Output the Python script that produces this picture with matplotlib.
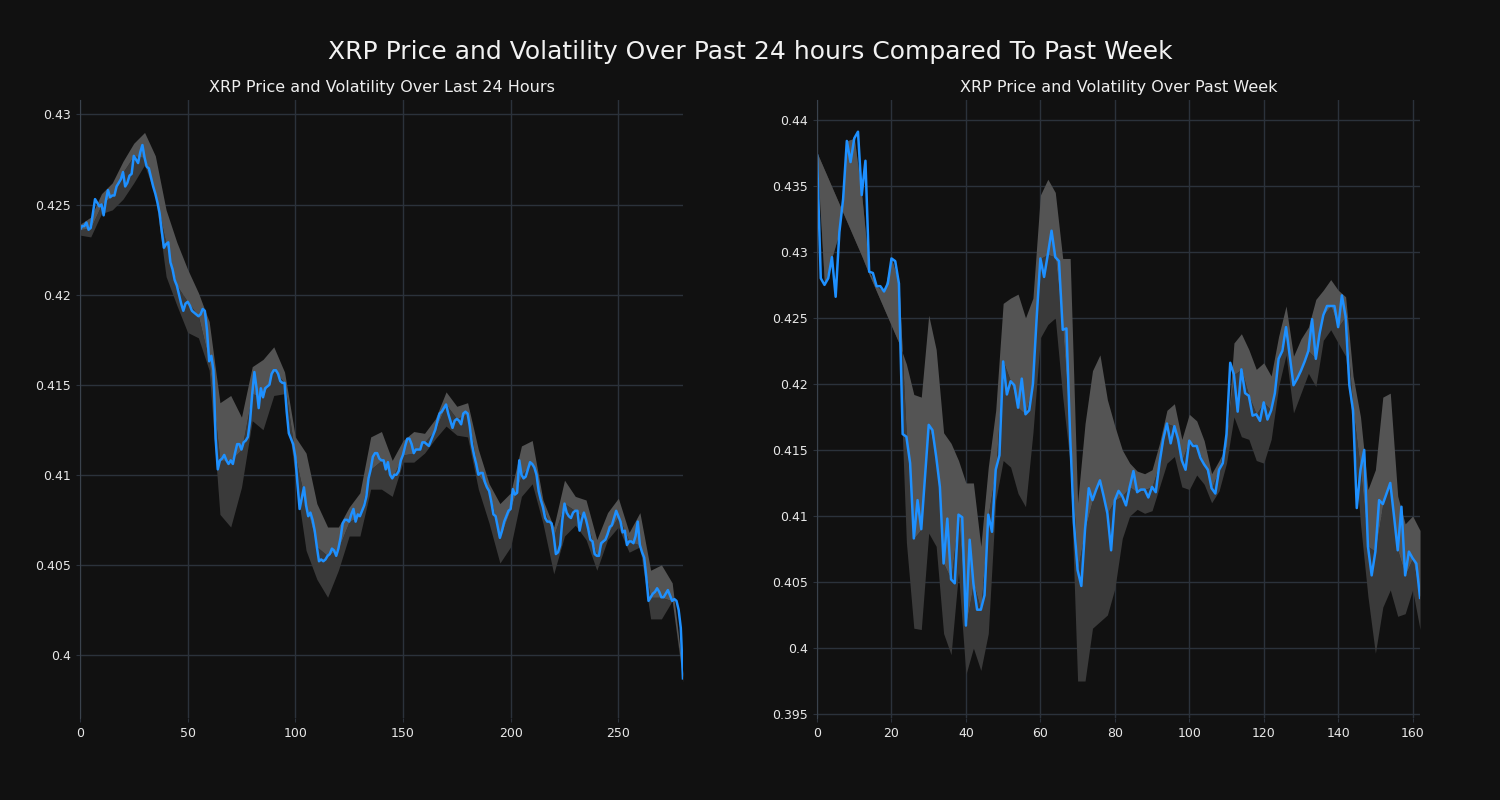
import numpy as np
import matplotlib
matplotlib.use("Agg")
import matplotlib.pyplot as plt
from matplotlib.ticker import FuncFormatter, MultipleLocator

# last 24 hours, one price per step
day_price = [
    0.4236, 0.4238, 0.4238, 0.4240, 0.4236, 0.4237, 0.4245, 0.4253, 0.4251, 0.4249,
    0.4250, 0.4244, 0.4252, 0.4258, 0.4254, 0.4255, 0.4255, 0.4260, 0.4262, 0.4264,
    0.4268, 0.4260, 0.4262, 0.4266, 0.4267, 0.4277, 0.4275, 0.4273, 0.4279, 0.4283,
    0.4276, 0.4271, 0.4270, 0.4265, 0.4260, 0.4256, 0.4251, 0.4245, 0.4235, 0.4226,
    0.4228, 0.4229, 0.4218, 0.4214, 0.4208, 0.4205, 0.4200, 0.4195, 0.4191, 0.4195,
    0.4196, 0.4194, 0.4191, 0.4190, 0.4189, 0.4188, 0.4189, 0.4192, 0.4191, 0.4180,
    0.4163, 0.4166, 0.4158, 0.4120, 0.4103, 0.4108, 0.4109, 0.4111, 0.4108, 0.4106,
    0.4108, 0.4106, 0.4112, 0.4117, 0.4117, 0.4114, 0.4118, 0.4119, 0.4121, 0.4130,
    0.4145, 0.4157, 0.4148, 0.4137, 0.4148, 0.4143, 0.4148, 0.4149, 0.4150, 0.4156,
    0.4158, 0.4158, 0.4156, 0.4152, 0.4151, 0.4151, 0.4135, 0.4123, 0.4120, 0.4117,
    0.4110, 0.4095, 0.4081, 0.4087, 0.4093, 0.4083, 0.4077, 0.4079, 0.4075, 0.4069,
    0.4060, 0.4052, 0.4053, 0.4052, 0.4053, 0.4055, 0.4056, 0.4059, 0.4058, 0.4055,
    0.4059, 0.4065, 0.4073, 0.4075, 0.4075, 0.4074, 0.4078, 0.4081, 0.4074, 0.4078,
    0.4077, 0.4080, 0.4083, 0.4088, 0.4098, 0.4103, 0.4110, 0.4112, 0.4112, 0.4109,
    0.4108, 0.4108, 0.4103, 0.4107, 0.4100, 0.4098, 0.4100, 0.4100, 0.4102, 0.4108,
    0.4111, 0.4116, 0.4120, 0.4120, 0.4117, 0.4112, 0.4114, 0.4114, 0.4114, 0.4118,
    0.4118, 0.4117, 0.4116, 0.4119, 0.4122, 0.4125, 0.4130, 0.4134, 0.4135, 0.4137,
    0.4139, 0.4134, 0.4130, 0.4126, 0.4130, 0.4131, 0.4130, 0.4128, 0.4134, 0.4135,
    0.4134, 0.4127, 0.4117, 0.4111, 0.4106, 0.4100, 0.4101, 0.4101, 0.4096, 0.4093,
    0.4091, 0.4085, 0.4078, 0.4077, 0.4071, 0.4065, 0.4069, 0.4074, 0.4077, 0.4080,
    0.4081, 0.4092, 0.4089, 0.4090, 0.4108, 0.4100, 0.4098, 0.4099, 0.4103, 0.4107,
    0.4106, 0.4104, 0.4100, 0.4091, 0.4086, 0.4082, 0.4076, 0.4074, 0.4074, 0.4073,
    0.4066, 0.4056, 0.4057, 0.4061, 0.4075, 0.4084, 0.4079, 0.4077, 0.4076, 0.4079,
    0.4080, 0.4080, 0.4069, 0.4075, 0.4079, 0.4075, 0.4070, 0.4064, 0.4063, 0.4056,
    0.4055, 0.4055, 0.4062, 0.4063, 0.4064, 0.4067, 0.4071, 0.4072, 0.4076, 0.4080,
    0.4077, 0.4074, 0.4068, 0.4069, 0.4061, 0.4063, 0.4063, 0.4062, 0.4066, 0.4074,
    0.4061, 0.4057, 0.4054, 0.4043, 0.4030, 0.4032, 0.4034, 0.4035, 0.4037, 0.4035,
    0.4032, 0.4032, 0.4034, 0.4036, 0.4033, 0.4030, 0.4031, 0.4030, 0.4025, 0.4015,
    0.3987,
]
# volatility band for the day, every 5th step
day_band_step = 5
day_hi = [
    0.4239, 0.4243, 0.4256, 0.4262, 0.4274, 0.4284, 0.4290, 0.4277, 0.4247, 0.4229,
    0.4214, 0.4201, 0.4185, 0.4140, 0.4144, 0.4132, 0.4160, 0.4164, 0.4171, 0.4157,
    0.4121, 0.4112, 0.4084, 0.4071, 0.4071, 0.4082, 0.4090, 0.4121, 0.4124, 0.4108,
    0.4119, 0.4124, 0.4123, 0.4131, 0.4146, 0.4138, 0.4140, 0.4114, 0.4095, 0.4084,
    0.4090, 0.4116, 0.4119, 0.4086, 0.4071, 0.4097, 0.4088, 0.4086, 0.4064, 0.4079,
    0.4087, 0.4068, 0.4079, 0.4047, 0.4050, 0.4040, 0.3990,
]
day_lo = [
    0.4233, 0.4232, 0.4245, 0.4247, 0.4253, 0.4262, 0.4272, 0.4255, 0.4210, 0.4194,
    0.4179, 0.4176, 0.4158, 0.4078, 0.4071, 0.4093, 0.4130, 0.4125, 0.4144, 0.4145,
    0.4099, 0.4058, 0.4042, 0.4032, 0.4047, 0.4066, 0.4066, 0.4092, 0.4092, 0.4088,
    0.4107, 0.4107, 0.4112, 0.4120, 0.4127, 0.4122, 0.4121, 0.4092, 0.4073, 0.4051,
    0.4060, 0.4088, 0.4095, 0.4073, 0.4045, 0.4066, 0.4072, 0.4064, 0.4047, 0.4064,
    0.4071, 0.4057, 0.4060, 0.4020, 0.4020, 0.4030, 0.3985,
]

# past week
week_price = [
    0.4373, 0.4280, 0.4275, 0.4280, 0.4296, 0.4266, 0.4315, 0.4340, 0.4384, 0.4368,
    0.4386, 0.4391, 0.4343, 0.4369, 0.4285, 0.4284, 0.4274, 0.4274, 0.4270, 0.4276,
    0.4295, 0.4293, 0.4276, 0.4162, 0.4160, 0.4140, 0.4083, 0.4112, 0.4090, 0.4130,
    0.4169, 0.4165, 0.4145, 0.4122, 0.4064, 0.4098, 0.4052, 0.4049, 0.4101, 0.4099,
    0.4017, 0.4082, 0.4049, 0.4029, 0.4029, 0.4040, 0.4101, 0.4088, 0.4135, 0.4146,
    0.4217, 0.4192, 0.4202, 0.4199, 0.4182, 0.4204, 0.4177, 0.4180, 0.4200, 0.4250,
    0.4295, 0.4281, 0.4298, 0.4316, 0.4296, 0.4293, 0.4241, 0.4242, 0.4160, 0.4095,
    0.4059, 0.4047, 0.4090, 0.4121, 0.4112, 0.4120, 0.4127, 0.4115, 0.4102, 0.4074,
    0.4112, 0.4119, 0.4115, 0.4108, 0.4122, 0.4134, 0.4118, 0.4120, 0.4120, 0.4114,
    0.4122, 0.4118, 0.4140, 0.4158, 0.4170, 0.4155, 0.4168, 0.4158, 0.4142, 0.4135,
    0.4157, 0.4153, 0.4153, 0.4144, 0.4139, 0.4135, 0.4121, 0.4117, 0.4135, 0.4140,
    0.4162, 0.4216, 0.4207, 0.4179, 0.4211, 0.4193, 0.4191, 0.4176, 0.4177, 0.4172,
    0.4186, 0.4173, 0.4180, 0.4193, 0.4219, 0.4225, 0.4243, 0.4221, 0.4199, 0.4204,
    0.4210, 0.4217, 0.4225, 0.4249, 0.4219, 0.4238, 0.4252, 0.4259, 0.4259, 0.4259,
    0.4243, 0.4267, 0.4251, 0.4199, 0.4180, 0.4106, 0.4135, 0.4150, 0.4077, 0.4055,
    0.4073, 0.4112, 0.4109, 0.4117, 0.4125, 0.4100, 0.4074, 0.4107, 0.4055, 0.4073,
    0.4068, 0.4064, 0.4038,
]
week_band_step = 2
week_hi = [
    0.4375, 0.4362, 0.4349, 0.4336, 0.4323, 0.4310, 0.4297, 0.4283, 0.4270, 0.4257,
    0.4244, 0.4231, 0.4215, 0.4192, 0.4190, 0.4252, 0.4226, 0.4163, 0.4155, 0.4142,
    0.4125, 0.4125, 0.4077, 0.4137, 0.4180, 0.4261, 0.4265, 0.4268, 0.4250, 0.4265,
    0.4343, 0.4355, 0.4345, 0.4295, 0.4295, 0.4110, 0.4170, 0.4210, 0.4222, 0.4188,
    0.4168, 0.4150, 0.4140, 0.4134, 0.4132, 0.4135, 0.4155, 0.4180, 0.4185, 0.4158,
    0.4177, 0.4172, 0.4157, 0.4132, 0.4142, 0.4153, 0.4231, 0.4238, 0.4226, 0.4211,
    0.4216, 0.4206, 0.4236, 0.4259, 0.4221, 0.4234, 0.4243, 0.4264, 0.4271, 0.4279,
    0.4271, 0.4266, 0.4206, 0.4175, 0.4120, 0.4135, 0.4190, 0.4193, 0.4115, 0.4094,
    0.4100, 0.4089,
]
week_lo = [
    0.4375, 0.4362, 0.4349, 0.4336, 0.4323, 0.4310, 0.4297, 0.4283, 0.4270, 0.4257,
    0.4244, 0.4231, 0.4080, 0.4015, 0.4014, 0.4087, 0.4077, 0.4011, 0.3995, 0.4057,
    0.3980, 0.4000, 0.3983, 0.4011, 0.4112, 0.4142, 0.4137, 0.4117, 0.4107, 0.4163,
    0.4235, 0.4245, 0.4250, 0.4190, 0.4140, 0.3975, 0.3975, 0.4015, 0.4020, 0.4025,
    0.4045, 0.4083, 0.4100, 0.4105, 0.4102, 0.4104, 0.4122, 0.4140, 0.4145, 0.4122,
    0.4120, 0.4131, 0.4124, 0.4110, 0.4119, 0.4140, 0.4175, 0.4160, 0.4158, 0.4142,
    0.4140, 0.4158, 0.4198, 0.4222, 0.4178, 0.4193, 0.4208, 0.4198, 0.4233, 0.4241,
    0.4231, 0.4221, 0.4165, 0.4094, 0.4039, 0.3996, 0.4031, 0.4044, 0.4024, 0.4026,
    0.4044, 0.4014,
]

BG = "#111111"
GRID = "#2b323b"
LINE = "#1e90ff"
LIGHT = "#545454"
DARK = "#3a3a3a"


def draw(ax, price, hi, lo, step, title, xmax, ylim, xstep):
    x = np.arange(len(price))
    price = np.array(price)
    bx = x[::step]
    mid = price[::step]
    ax.fill_between(bx, lo, mid, color=DARK, lw=0)
    ax.fill_between(bx, mid, hi, color=LIGHT, lw=0)
    ax.plot(x, price, color=LINE, lw=1.8)
    ax.set_facecolor(BG)
    ax.set_xlim(0, xmax)
    ax.set_ylim(*ylim)
    ax.xaxis.set_major_locator(MultipleLocator(xstep))
    ax.yaxis.set_major_locator(MultipleLocator(0.005))
    ax.yaxis.set_major_formatter(FuncFormatter(lambda v, p: "%g" % round(v, 4)))
    ax.grid(True, color=GRID, lw=1)
    ax.set_axisbelow(True)
    for s in ["top", "right", "bottom"]:
        ax.spines[s].set_visible(False)
    ax.spines["left"].set_color("#3a424c")
    ax.tick_params(colors="#e8e8e8", labelsize=9, length=3, color=GRID)
    ax.set_title(title, color="#eeeeee", fontsize=11.5, pad=6)


fig = plt.figure(figsize=(15, 8), dpi=100, facecolor=BG)
ax1 = fig.add_axes([0.0533, 0.1025, 0.402, 0.7725])
ax2 = fig.add_axes([0.5447, 0.1025, 0.402, 0.7725])

draw(ax1, day_price, day_hi, day_lo, day_band_step,
     "XRP Price and Volatility Over Last 24 Hours", 280, (0.3965, 0.4308), 50)
draw(ax2, week_price, week_hi, week_lo, week_band_step,
     "XRP Price and Volatility Over Past Week", 162, (0.3947, 0.4415), 20)

fig.suptitle("XRP Price and Volatility Over Past 24 hours Compared To Past Week",
             color="#f2f2f2", fontsize=18, y=0.95)

fig.savefig("out.png", facecolor=BG)
